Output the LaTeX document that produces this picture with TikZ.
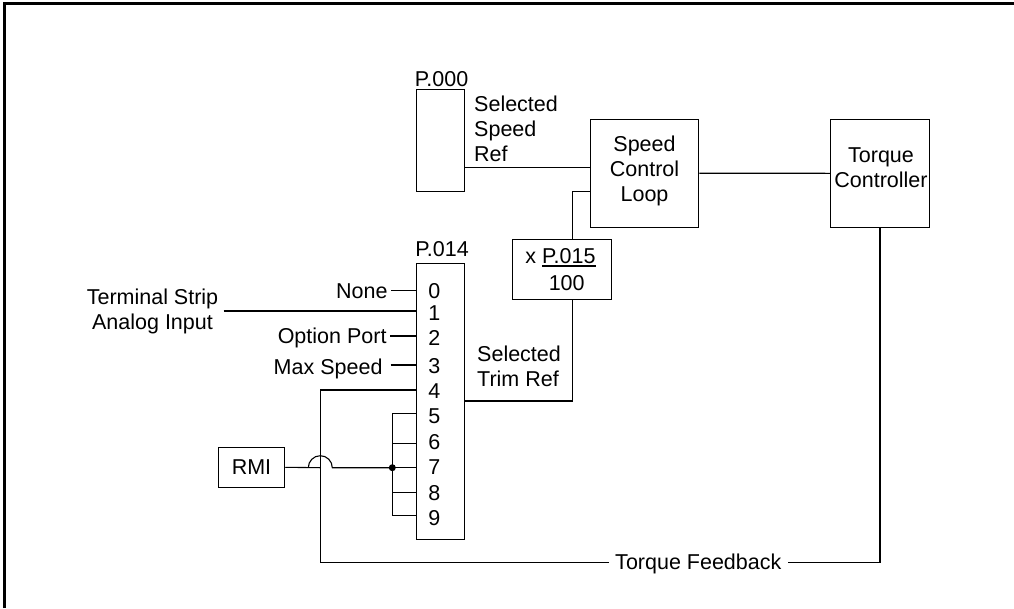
\documentclass[tikz,border=0pt]{standalone}
\usepackage{fontspec}
\setmainfont{Liberation Sans}
\newcommand\myul[1]{\vtop{\hbox{#1}\kern1.6pt\hrule height 1.6pt}}
\begin{document}
\begin{tikzpicture}[x=1pt,y=-1pt,
  every node/.style={font=\fontsize{21.5}{25}\selectfont, inner sep=0pt},
  box/.style={draw, line width=1.1pt},
  wire/.style={line width=1.1pt},
  txt/.style={align=left}]
\useasboundingbox (0,0) rectangle (1014,608);
% frame
\draw[line width=3pt] (4.6,608) -- (4.6,3.2) -- (1014,3.2);

% boxes
\node[box, minimum width=47.8pt, minimum height=101.7pt] (P000) at (440.4,140.2) {};
\node[box, minimum width=108.4pt, minimum height=107.7pt] (SCL) at (644.5,173.2) {};
\node[box, minimum width=99.4pt, minimum height=108pt] (TC) at (880,173.3) {};
\node[box, minimum width=99pt, minimum height=60pt] (XP) at (562.2,269.3) {};
\node[box, minimum width=47.6pt, minimum height=276pt] (P014) at (440.5,401.3) {};
\node[box, minimum width=66.4pt, minimum height=40pt] (RMI) at (251.5,467.3) {RMI};

% box texts
\node[align=center] (SCLt) at ([yshift=2.2pt]SCL.center) {Speed\\Control\\Loop};
\node[align=center] (TCt) at ([xshift=1pt,yshift=5.1pt]TC.center) {Torque\\Controller};
\node[anchor=base west] (XPa) at (525.2,263.3) {x \myul{P.015}};
\node[anchor=base] (XPb) at (566.7,290) {100};

% labels
\node[anchor=base] (L000) at (441.5,86.7) {P.000};
\node[anchor=base] (L014) at (442,256.7) {P.014};
\node[txt, anchor=west] (SSR) at (474,129) {Selected\\Speed\\Ref};
\node[txt, anchor=west] (STR) at (477,365.9) {Selected\\Trim Ref};
\node[align=center] (Term) at (152.5,311) {Terminal Strip\\Analog Input};
\node[anchor=base east] (None) at (387.7,298) {None};
\node[anchor=base east] (Opt) at (386.7,343.5) {Option Port};
\node[anchor=base east] (Max) at (382.7,374.5) {Max Speed};
\node[anchor=base, inner xsep=6pt] (FB) at (698.3,569.5) {Torque Feedback};

% digits
\foreach \i/\y in {0/298,1/320.5,2/345,3/373.5,4/398,5/423.8,6/449.7,7/474.7,8/500.5,9/525}
  \node[anchor=base] (d\i) at (434.3,\y) {\i};

% pins on P.014
\foreach \i/\y in {0/290.5,1/311,2/336,3/365,4/390,5/413.3,6/443.3,7/467.7,8/492.3,9/515.3}
  \coordinate (pin\i) at (P014.west |- 0,\y);
\coordinate (bus) at (392.3,467.7);
\coordinate (fbc) at (320.3,390);

% connectors
\draw[wire] (P000.east |- 0,167.3) -- (SCL.west |- 0,167.3);
\draw[wire] (SCL.east) -- (TC.west);
\draw[wire] ([yshift=-18.5pt]SCL.west) -| ([xshift=10.5pt]XP.north);
\draw[wire] ([xshift=10.5pt]XP.south) |- (P014.east |- 0,401);
\draw[wire] ([xshift=3.5pt]None.east |- pin0) -- (pin0);
\draw[wire] ([xshift=5.3pt]Term.east |- pin1) -- (pin1);
\draw[wire] ([xshift=3.5pt]Opt.east |- pin2) -- (pin2);
\draw[wire] ([xshift=8pt]Max.east |- pin3) -- (pin3);
\draw[wire] (TC.south) |- (FB.east |- 0,562.7);
\draw[wire] (FB.west |- 0,562.7) -| (fbc) -- (pin4);
\draw[wire] (pin5) -| (bus) |- (pin9);
\draw[wire] (bus |- pin6) -- (pin6);
\draw[wire] (bus) -- (pin7);
\draw[wire] (bus |- pin8) -- (pin8);
\draw[wire] (RMI.east) -- (fbc |- bus) ++(-12,0)
  arc[start angle=180, end angle=0, radius=12pt] -- (bus);
\fill (bus) circle[radius=3.5pt];
\end{tikzpicture}
\end{document}
